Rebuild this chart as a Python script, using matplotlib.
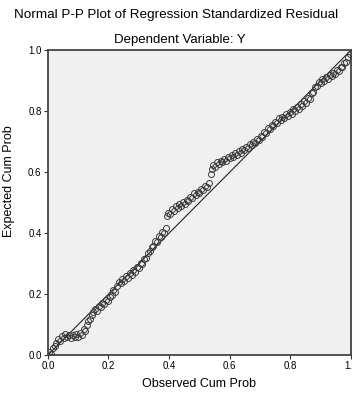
import matplotlib
matplotlib.use("Agg")
import matplotlib.pyplot as plt

title = "Normal P-P Plot of Regression Standardized Residual"
subtitle = "Dependent Variable: Y"
xlabel = "Observed Cum Prob"
ylabel = "Expected Cum Prob"
tick_values = [0.0, 0.2, 0.4, 0.6, 0.8, 1.0]
tick_labels = ["0.0", "0.2", "0.4", "0.6", "0.8", "1.0"]

obs_cum = [
    0.004, 0.010, 0.016, 0.022, 0.028, 0.034, 0.040, 0.046, 0.052, 0.058,
    0.064, 0.070, 0.076, 0.082, 0.088, 0.094, 0.100, 0.106, 0.112, 0.118,
    0.124, 0.128, 0.132, 0.138, 0.144, 0.150, 0.156, 0.162, 0.168, 0.174,
    0.180, 0.186, 0.192, 0.198, 0.204, 0.210, 0.216, 0.222, 0.228, 0.234,
    0.240, 0.246, 0.252, 0.258, 0.264, 0.270, 0.276, 0.282, 0.288, 0.294,
    0.300, 0.306, 0.312, 0.318, 0.324, 0.330, 0.336, 0.342, 0.348, 0.354,
    0.360, 0.366, 0.372, 0.378, 0.384, 0.390,
    0.392, 0.398, 0.404, 0.410, 0.416, 0.422, 0.428, 0.434, 0.440, 0.446,
    0.452, 0.458, 0.464, 0.470, 0.476, 0.482, 0.488, 0.494, 0.500, 0.506,
    0.512, 0.518, 0.524, 0.530,
    0.538, 0.542, 0.546, 0.552, 0.558, 0.564, 0.570, 0.576, 0.582, 0.588,
    0.594, 0.600, 0.606, 0.612, 0.618, 0.624, 0.630, 0.636, 0.642, 0.648,
    0.654, 0.660, 0.666, 0.672, 0.678, 0.684, 0.690, 0.696, 0.702, 0.708,
    0.714, 0.720, 0.726, 0.732, 0.738, 0.744, 0.750, 0.756, 0.762, 0.768,
    0.774, 0.780, 0.786, 0.792, 0.798, 0.804, 0.810, 0.816, 0.822, 0.828,
    0.834, 0.840, 0.846, 0.852, 0.858, 0.864, 0.870, 0.876, 0.882, 0.888,
    0.894, 0.900, 0.906, 0.912, 0.918, 0.924, 0.930, 0.936, 0.942, 0.948,
    0.954, 0.960, 0.966, 0.972, 0.978, 0.984, 0.990, 0.996,
]
exp_cum = [
    0.010, 0.004, 0.022, 0.030, 0.040, 0.052, 0.046, 0.062, 0.055, 0.068,
    0.058, 0.066, 0.056, 0.067, 0.060, 0.070, 0.058, 0.072, 0.066, 0.084,
    0.080, 0.100, 0.112, 0.120, 0.132, 0.140, 0.152, 0.146, 0.162, 0.158,
    0.172, 0.166, 0.182, 0.176, 0.192, 0.198, 0.212, 0.206, 0.228, 0.240,
    0.236, 0.250, 0.244, 0.258, 0.252, 0.268, 0.262, 0.278, 0.272, 0.290,
    0.286, 0.302, 0.298, 0.316, 0.318, 0.336, 0.342, 0.356, 0.358, 0.374,
    0.372, 0.390, 0.388, 0.404, 0.400, 0.418,
    0.456, 0.466, 0.462, 0.478, 0.474, 0.488, 0.482, 0.494, 0.490, 0.502,
    0.496, 0.510, 0.506, 0.520, 0.516, 0.530, 0.524, 0.536, 0.532, 0.546,
    0.540, 0.554, 0.552, 0.566,
    0.594, 0.610, 0.622, 0.618, 0.632, 0.626, 0.638, 0.632, 0.644, 0.638,
    0.650, 0.646, 0.656, 0.650, 0.662, 0.656, 0.668, 0.662, 0.676, 0.672,
    0.684, 0.678, 0.692, 0.688, 0.700, 0.696, 0.710, 0.704, 0.720, 0.716,
    0.732, 0.728, 0.744, 0.740, 0.756, 0.750, 0.766, 0.760, 0.776, 0.770,
    0.782, 0.776, 0.790, 0.784, 0.798, 0.792, 0.806, 0.800, 0.814, 0.808,
    0.822, 0.818, 0.834, 0.828, 0.844, 0.840, 0.858, 0.864, 0.878, 0.884,
    0.896, 0.892, 0.904, 0.900, 0.912, 0.906, 0.918, 0.914, 0.926, 0.922,
    0.934, 0.932, 0.946, 0.944, 0.958, 0.962, 0.976, 0.986,
]

plt.rcParams['font.family'] = ['Liberation Sans', 'DejaVu Sans']

fig = plt.figure(figsize=(3.52, 3.95), dpi=100)
fig.patch.set_facecolor('white')
ax = fig.add_axes([0.136, 0.101, 0.861, 0.772])
ax.set_facecolor('#f0f0f0')

ax.plot([0, 1], [0, 1], color='#222222', linewidth=0.8, zorder=2)
ax.plot(obs_cum, exp_cum, linestyle='none', marker='o', markersize=4.3,
        markerfacecolor='none', markeredgecolor='#3a3a3a',
        markeredgewidth=0.7, zorder=3)

ax.set_xlim(0, 1)
ax.set_ylim(0, 1)
ax.set_xticks(tick_values)
ax.set_xticklabels(tick_labels)
ax.set_yticks(tick_values)
ax.set_yticklabels(tick_labels)
ax.tick_params(axis='both', labelsize=7, length=3, width=0.8, direction='out',
               color='#333333', pad=1.5)
for s in ax.spines.values():
    s.set_color('#444444')
    s.set_linewidth(1.3)

ax.set_xlabel(xlabel, fontsize=9, labelpad=5)
ax.set_ylabel(ylabel, fontsize=9, labelpad=4)
ax.yaxis.set_label_coords(-0.11, 0.57)

fig.text(0.5, 1 - 15 / 395, title, ha='center', va='center', fontsize=9.7)
fig.text(0.51, 1 - 40 / 395, subtitle, ha='center', va='center', fontsize=9.5)

fig.savefig('out.png', dpi=100, facecolor='white')
